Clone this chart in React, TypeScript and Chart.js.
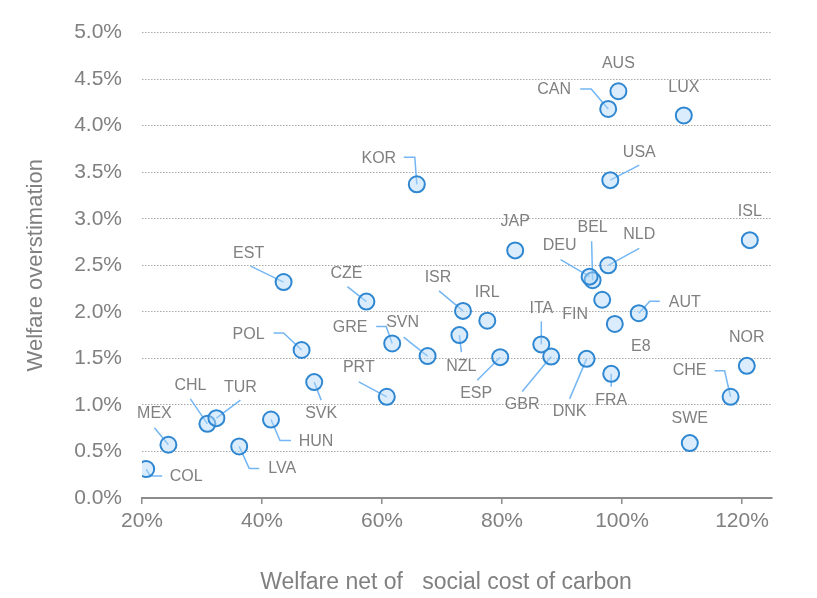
import React, { useEffect, useRef } from "react";
import { Chart, registerables } from "chart.js";

Chart.register(...registerables);

// ---- data ----
const countries = [
  "AUS", "CAN", "LUX", "USA", "KOR", "ISL", "JAP", "NLD", "BEL", "DEU",
  "FIN", "E8", "AUT", "ISR", "IRL", "NZL", "ESP", "ITA", "GBR", "DNK",
  "FRA", "NOR", "CHE", "SWE", "SVN", "EST", "CZE", "POL", "GRE", "SVK",
  "PRT", "CHL", "TUR", "HUN", "MEX", "LVA", "COL",
];
// Welfare net of social cost of carbon (%)
const welfareNet = [
  99.4, 97.7, 110.3, 98.05, 65.8, 121.3, 82.2, 97.7, 95.1, 94.6,
  96.7, 98.8, 102.8, 73.5, 77.55, 72.9, 79.7, 86.55, 88.2, 94.1,
  98.2, 120.8, 118.1, 111.3, 67.6, 43.6, 57.4, 46.6, 61.7, 48.7,
  60.8, 30.9, 32.4, 41.5, 24.4, 36.2, 20.7,
];
// Welfare overstimation (%)
const overstimation = [
  4.37, 4.18, 4.11, 3.415, 3.37, 2.77, 2.66, 2.5, 2.34, 2.378,
  2.13, 1.87, 1.985, 2.01, 1.905, 1.75, 1.513, 1.65, 1.52, 1.495,
  1.334, 1.42, 1.087, 0.59, 1.525, 2.32, 2.11, 1.59, 1.66, 1.245,
  1.087, 0.797, 0.858, 0.843, 0.572, 0.554, 0.311,
];
const xTickValues = [20, 40, 60, 80, 100, 120];
const yTickValues = [0, 0.5, 1, 1.5, 2, 2.5, 3, 3.5, 4, 4.5, 5];
const xTitle = "Welfare net of   social cost of carbon";
const yTitle = "Welfare overstimation";

// ---- label layout (pixel offsets from each point) ----
const labelOffsets: [number, number][] = [
  [0, -28], [-54, -19], [0, -28], [29, -28], [-38, -26], [0, -29], [0, -29], [31, -31], [0, -53], [-30, -31],
  [-27, 15], [26, 23], [46, -11], [-25, -33], [0, -28], [2, 31], [-24, 36], [0, -36], [-29, 48], [-17, 53],
  [0, 27], [0, -28], [-41, -26], [0, -24], [-25, -33], [-35, -28], [-20, -28], [-53, -15], [-42, -16], [7, 31],
  [-28, -29], [-17, -38], [24, -31], [45, 22], [-14, -31], [43, 22], [40, 8],
];
const leaderPaths: [number, number][][] = [
  [], [[-17, -20], [-28, -20]], [], [[29, -15]], [[-2, -27], [-13, -27]], [], [], [[31, -17]], [[-1, -39]], [[-29, -17]],
  [], [], [[11, -12], [21, -12]], [[-24, -20]], [], [[2, 17]], [[-23, 23]], [[0, -23]], [[-29, 35]], [[-17, 40]],
  [[0, 13]], [], [[-6, -26], [-16, -26]], [], [[-24, -19]], [[-33, -16]], [[-19, -15]], [[-18, -17], [-28, -17]], [[-6, -17], [-16, -17]], [[7, 18]],
  [[-28, -15]], [[-17, -25]], [[24, -18]], [[9, 21], [20, 21]], [[-14, -17]], [[10, 22], [20, 22]], [[4, 7], [16, 7]],
];

const FONT = "'Liberation Sans', Arial, Helvetica, sans-serif";
const GRAY = "#808080";

const labelPlugin = {
  id: "pointLabels",
  beforeDatasetsDraw(chart: any) {
    const ctx = chart.ctx;
    const meta = chart.getDatasetMeta(0);
    ctx.save();
    ctx.strokeStyle = "#74b6f4";
    ctx.lineWidth = 1.5;
    meta.data.forEach((pt: any, i: number) => {
      const path = leaderPaths[i];
      if (!path || !path.length) return;
      ctx.beginPath();
      ctx.moveTo(pt.x, pt.y);
      path.forEach(([dx, dy]) => ctx.lineTo(pt.x + dx, pt.y + dy));
      ctx.stroke();
    });
    ctx.restore();
  },
  afterDatasetsDraw(chart: any) {
    const ctx = chart.ctx;
    const meta = chart.getDatasetMeta(0);
    ctx.save();
    ctx.font = `16px ${FONT}`;
    ctx.fillStyle = GRAY;
    ctx.textAlign = "center";
    ctx.textBaseline = "middle";
    meta.data.forEach((pt: any, i: number) => {
      const [dx, dy] = labelOffsets[i];
      ctx.fillText(countries[i], pt.x + dx, pt.y + dy);
    });
    // x-axis title, slightly left of the plot centre as in the source
    const area = chart.chartArea;
    ctx.font = `23px ${FONT}`;
    ctx.fillText(xTitle, (area.left + area.right) / 2 - 11, chart.height - 15);
    ctx.restore();
  },
};

export default function App() {
  const ref = useRef<HTMLCanvasElement>(null);
  useEffect(() => {
    if (!ref.current) return;
    const chart = new Chart(ref.current, {
      type: "scatter",
      data: {
        datasets: [
          {
            label: "countries",
            data: countries.map((_, i) => ({ x: welfareNet[i], y: overstimation[i] })),
            pointRadius: 8,
            pointHoverRadius: 8,
            borderWidth: 2,
            borderColor: "#2f87d1",
            backgroundColor: "rgba(176,216,248,0.45)",
          },
        ],
      },
      options: {
        responsive: false,
        animation: false,
        devicePixelRatio: 1,
        layout: { padding: { top: 32, right: 45, left: 0, bottom: 0 } },
        plugins: { legend: { display: false }, tooltip: { enabled: false } },
        scales: {
          x: {
            type: "linear",
            min: 20,
            max: 125,
            afterBuildTicks: (s: any) => {
              s.ticks = xTickValues.map((v) => ({ value: v }));
            },
            afterFit: (s: any) => {
              s.height = 100;
            },
            ticks: {
              callback: (v: any) => `${v}%`,
              font: { family: FONT, size: 21 },
              color: GRAY,
              padding: 5,
              maxRotation: 0,
            },
            grid: {
              drawOnChartArea: false,
              drawTicks: true,
              tickLength: 6,
              color: "#8c8c8c",
              lineWidth: 1.5,
            },
            border: { display: true, color: "#8c8c8c", width: 2 },
            title: { display: false },
          },
          y: {
            type: "linear",
            min: 0,
            max: 5,
            afterBuildTicks: (s: any) => {
              s.ticks = yTickValues.map((v) => ({ value: v }));
            },
            afterFit: (s: any) => {
              s.width = 142;
            },
            ticks: {
              callback: (v: any) => `${Number(v).toFixed(1)}%`,
              font: { family: FONT, size: 21 },
              color: GRAY,
              padding: 20,
            },
            grid: {
              drawTicks: false,
              color: "#a8a8a8",
              lineWidth: 1,
            },
            border: { display: false, dash: [1.5, 1.5] },
            title: {
              display: true,
              text: yTitle,
              font: { family: FONT, size: 22 },
              color: GRAY,
              padding: { top: 23, bottom: 0 },
            },
          },
        },
      },
      plugins: [labelPlugin],
    } as any);
    return () => chart.destroy();
  }, []);
  return (
    <div style={{ position: "fixed", left: 0, top: 0, width: 817, height: 598, background: "#fff" }}>
      <canvas ref={ref} width={817} height={598} style={{ display: "block" }} />
    </div>
  );
}
